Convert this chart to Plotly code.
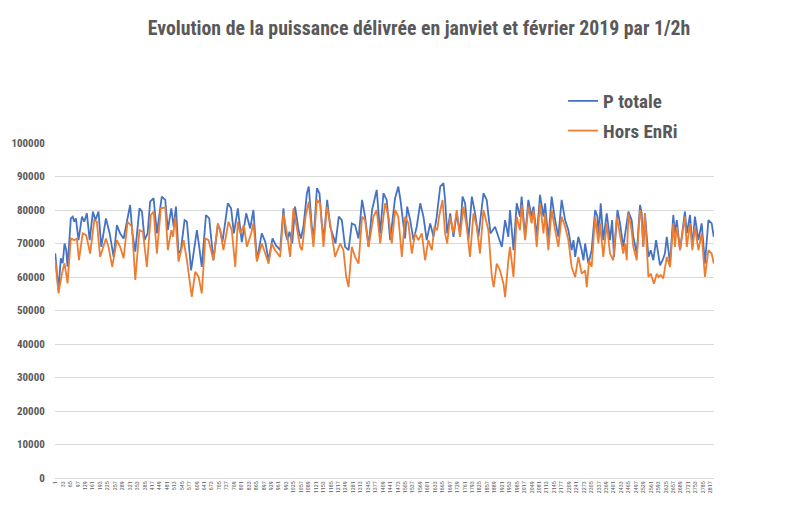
import plotly.graph_objects as go

# Half-hour index (1..2832) and power values
total_idx = [1, 15, 25, 33, 41, 48, 54, 68, 76, 83, 90, 101, 116, 126, 137, 149, 163, 174, 187, 199,
             219, 235, 252, 266, 280, 295, 323, 333, 345, 363, 374, 385, 398, 409, 424, 438, 459, 474,
             485, 500, 510, 520, 531, 541, 557, 567, 585, 610, 620, 631, 649, 663, 681, 700, 710, 720,
             743, 757, 769, 786, 803, 822, 839, 853, 868, 889, 904, 918, 935, 949, 968,
             982, 991, 999, 1008, 1020, 1032, 1047, 1057, 1068, 1083, 1091, 1104, 1113, 1126, 1137,
             1147, 1156, 1170, 1183, 1197, 1206, 1220, 1233, 1247, 1262, 1276, 1290, 1305, 1320, 1333,
             1348, 1363, 1383, 1398, 1412, 1426, 1441, 1462,
             1476, 1485, 1498, 1505, 1514, 1527, 1541, 1555, 1570, 1584, 1598, 1613, 1627, 1641, 1656,
             1670, 1677, 1686, 1699, 1713, 1727, 1741, 1752, 1763, 1777, 1792, 1806, 1820, 1842, 1856,
             1872, 1892, 1906, 1921, 1935, 1949,
             1956, 1971, 1985, 1999, 2006, 2021, 2035, 2049, 2057, 2071, 2085, 2100, 2107, 2121, 2135,
             2150, 2164, 2178, 2193, 2207, 2221, 2229, 2236, 2250, 2264, 2272, 2279, 2293, 2307, 2322,
             2332, 2337, 2346, 2357, 2372, 2386, 2395, 2403, 2418,
             2429, 2443, 2451, 2465, 2479, 2486, 2501, 2508, 2515, 2522, 2529, 2536, 2544, 2551, 2561,
             2572, 2584, 2594, 2601, 2612, 2622, 2630, 2644, 2658, 2665, 2673, 2687, 2708, 2716, 2730,
             2740, 2751, 2766, 2780, 2794, 2809, 2823, 2832]
total_val = [67100, 56100, 65600, 64100, 70000, 68100, 63100, 77500, 78000, 76500, 77500, 71000, 78000, 76500, 79000, 71000, 79500, 77000, 79500, 69000,
             77500, 73000, 66000, 75500, 73000, 71500, 81500, 73000, 67600, 80500, 79500, 71000, 73000, 82500, 83500, 73000, 84000, 83000,
             74000, 80500, 75000, 81000, 67000, 68000, 77000, 76500, 62000, 74000, 69000, 63000, 78500, 77500, 65000, 75500, 74000, 70500,
             82000, 80500, 73000, 80500, 70400, 79000, 74500, 80000, 65000, 73000, 70500, 65000, 71500, 69500, 68000,
             80500, 73000, 71000, 73500, 70000, 81000, 74000, 71500, 75000, 85000, 87000, 75000, 72500, 86500, 85000,
             76000, 71500, 83000, 75000, 72000, 70000, 78000, 77000, 69000, 68000, 76000, 75500, 71500, 83000, 78000,
             69000, 80000, 86000, 73000, 85000, 83000, 71000, 83500,
             87000, 83000, 75000, 71500, 81000, 77000, 71000, 75000, 82000, 78000, 71000, 76000, 72000, 78000, 87000,
             88000, 83000, 73000, 79000, 72000, 79000, 73000, 84000, 82000, 71000, 84000, 79000, 72000, 85000, 83000,
             73000, 75000, 72000, 69000, 77000, 72000,
             80000, 68000, 82000, 78000, 84000, 72000, 83000, 78000, 81000, 72000, 84500, 78000, 82000, 71000, 84000,
             77000, 72000, 83000, 77000, 74000, 68000, 71000, 66000, 72000, 68000, 65000, 70000, 64000, 68000, 80000,
             78000, 72000, 82000, 71000, 79000, 71000, 77000, 66000, 80000,
             76000, 69000, 73000, 79500, 77000, 72000, 67000, 76000, 81500, 79000, 69000, 79000, 71000, 66000, 68000,
             65000, 71000, 66000, 63500, 65000, 67000, 72000, 64000, 78500, 73000, 77000, 68000, 79500, 73000, 78500,
             69000, 78000, 71000, 76000, 64000, 77000, 76000, 72000]

hors_idx = [1, 15, 30, 41, 54, 68, 83, 94, 103, 119, 134, 151, 169, 180, 194, 219, 230, 246, 266, 280,
            295, 312, 331, 345, 363, 378, 395, 412, 424, 438, 455, 474,
            485, 500, 507, 517, 531, 553, 567, 588, 603, 617, 631, 646, 660, 681, 700, 710, 724, 746,
            760, 775, 786, 797, 812, 825, 843, 853, 868, 889, 904, 918, 932, 946,
            968, 982, 997, 1011, 1025, 1040, 1054, 1062, 1077, 1091, 1104, 1111, 1126, 1140, 1154,
            1169, 1183, 1204, 1226, 1240, 1252, 1262, 1276, 1290, 1305, 1320, 1333, 1348, 1369, 1383,
            1398, 1419, 1434, 1448, 1462,
            1476, 1491, 1505, 1519, 1534, 1548, 1562, 1577, 1591, 1605, 1620, 1631, 1643, 1651, 1666,
            1677, 1686, 1699, 1713, 1727, 1741, 1756, 1770, 1784, 1799, 1813, 1827, 1842, 1863, 1878,
            1886, 1899, 1913, 1928, 1935, 1949,
            1956, 1971, 1985, 1999, 2006, 2021, 2035, 2049, 2057, 2071, 2085, 2100, 2107, 2121, 2135,
            2150, 2164, 2178, 2193, 2207, 2221, 2236, 2250, 2264, 2279, 2286, 2296, 2307, 2322, 2336,
            2343, 2357, 2372, 2386, 2400, 2415,
            2429, 2443, 2451, 2458, 2465, 2479, 2486, 2501, 2508, 2515, 2522, 2529, 2536, 2544, 2551,
            2561, 2568, 2575, 2587, 2595, 2604, 2615, 2630, 2644, 2658, 2665, 2673, 2687, 2708, 2716,
            2730, 2740, 2751, 2766, 2780, 2794, 2809, 2823, 2832]
hors_val = [65100, 55100, 61100, 64100, 58100, 71500, 71000, 71500, 65000, 73000, 72500, 67000, 77000, 76500, 66000, 71500, 69000, 63000, 71000, 69000,
            65600, 76500, 75000, 59100, 74000, 73500, 63000, 78500, 79500, 67000, 80500, 80800,
            68000, 74000, 72000, 78000, 64600, 71000, 65000, 54100, 61600, 60100, 55100, 71500, 71000, 65000, 76000, 74000, 68000, 76500,
            74000, 63000, 76500, 73000, 75500, 69000, 73000, 76000, 64600, 70000, 67000, 64000, 70000, 68000,
            66000, 79000, 73000, 66000, 80500, 75000, 69000, 68000, 78000, 82500, 73000, 69000, 83000, 82000, 69000,
            81000, 76000, 66000, 70000, 68000, 60000, 57000, 69000, 66000, 64000, 78000, 77000, 69000, 78000, 80000,
            70000, 82000, 78000, 70000, 80000,
            78000, 66000, 78000, 76000, 67000, 73000, 71000, 73000, 65000, 71000, 68000, 75000, 74000, 78000, 83000,
            73000, 70000, 78000, 73000, 80000, 72000, 81000, 75000, 66000, 79000, 75000, 67000, 80000, 74000, 60000,
            57000, 64000, 62000, 58000, 54000, 65000,
            69000, 60000, 78000, 74000, 81500, 71000, 81000, 76000, 80000, 69000, 82000, 73000, 79000, 68000, 80000,
            74000, 69000, 78000, 75000, 71000, 63000, 60000, 66000, 61000, 62000, 57000, 65000, 63000, 78000, 70000,
            76000, 66000, 76000, 67000, 65000, 78000,
            72000, 67000, 70000, 65000, 79000, 74000, 69000, 65000, 73000, 80000, 77000, 69000, 79000, 68000, 60000,
            61000, 59600, 58000, 61000, 60000, 60600, 59600, 66000, 63000, 76000, 69000, 75000, 68000, 78000, 69000,
            76000, 68000, 75000, 68000, 73000, 60000, 68000, 67000, 64000]

tick_labels = list(range(1, 2833, 32))
series_names = ["P totale", "Hors EnRi"]
colors = ["#4472C4", "#ED7D31"]

FONT = "Liberation Sans Narrow, Arial Narrow, Roboto Condensed, Liberation Sans, Arial, sans-serif"
GRAY = "#595959"

fig = go.Figure()
fig.add_trace(go.Scatter(x=total_idx, y=total_val, mode="lines", name="<b>" + series_names[0] + "</b>",
                         line=dict(color=colors[0], width=1.8), legendgroup="a"))
fig.add_trace(go.Scatter(x=hors_idx, y=hors_val, mode="lines", name="<b>" + series_names[1] + "</b>",
                         line=dict(color=colors[1], width=1.8), legendgroup="b"))

fig.update_layout(
    width=802, height=498,
    margin=dict(l=47, r=96, t=135, b=28, autoexpand=False),
    paper_bgcolor="white", plot_bgcolor="white",
    font=dict(family=FONT, color=GRAY),
    title=dict(text="<b>Evolution de la puissance délivrée en janviet et février 2019 par 1/2h</b>",
               x=0.5125, xref="container", xanchor="center",
               y=0.96, yref="container", yanchor="middle",
               font=dict(size=19.8, color=GRAY, family=FONT)),
    showlegend=True,
    legend=dict(x=0.771, y=1.182, xanchor="left", yanchor="top",
                font=dict(size=19, color=GRAY, family=FONT),
                itemwidth=30, tracegroupgap=2, bgcolor="rgba(0,0,0,0)"),
    xaxis=dict(range=[0, 2833], tickmode="array", tickvals=tick_labels,
               ticktext=[str(v) for v in tick_labels], tickangle=-90,
               tickfont=dict(size=6, color=GRAY, family=FONT),
               showgrid=False, showline=True, linecolor="#d9d9d9", linewidth=1,
               zeroline=False, ticks="", automargin=False),
    yaxis=dict(range=[0, 100000], dtick=10000, showgrid=True, gridcolor="#d9d9d9",
               gridwidth=1, zeroline=False, showline=False,
               tickformat="d", automargin=False,
               ticks="outside", ticklen=7, tickcolor="rgba(0,0,0,0)",
               tickfont=dict(size=11, color=GRAY, family=FONT)),
)
fig.update_yaxes(tickprefix="<b>", ticksuffix="</b>")

fig.write_html("out.html")
